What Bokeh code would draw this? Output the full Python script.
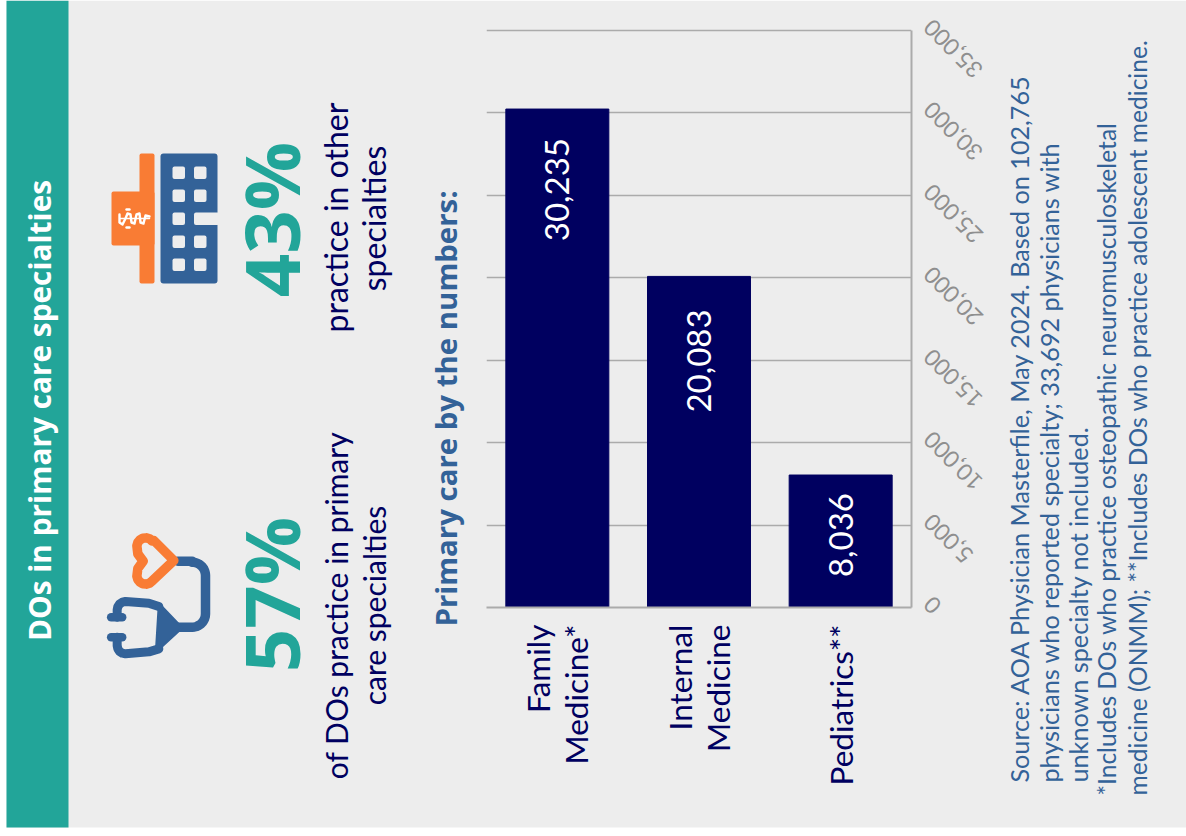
import math
import numpy as np
from bokeh.embed import file_html
from bokeh.resources import INLINE
from bokeh.plotting import figure
from bokeh.models import CategoricalAxis, ColumnDataSource, FactorRange, FixedTicker, LinearAxis, Range1d
from bokeh.core.properties import value

# Chart data
specialties = ["Family\nMedicine*", "Internal\nMedicine", "Pediatrics**"]
physician_counts = [30235, 20083, 8036]
count_labels = ["30,235", "20,083", "8,036"]
axis_ticks = [0, 5000, 10000, 15000, 20000, 25000, 30000, 35000]
axis_tick_labels = ["0", "5,000", "10,000", "15,000", "20,000", "25,000", "30,000", "35,000"]

# Palette and type
FONT = "Lato"
BOLD_FONT = "Open Sans"
PANEL = "#ededed"
TEAL = "#22a599"
ORANGE = "#f97c34"
BLUE = "#336298"
NAVY = "#000060"
GREY = "#8f8f8f"
RULE = "#ababab"

W, H = 1186, 836
PLOT_LEFT, PLOT_RIGHT, PLOT_TOP, PLOT_BOTTOM = 486, 911, 30, 607
AXIS_MAX = 35000
COUNT_PER_PX = AXIS_MAX / (PLOT_BOTTOM - PLOT_TOP)
HEADROOM = 3  # spare pixels above the top tick keep its grid line inside the frame
ABSOLUTE = {"position": "absolute", "left": "0px", "top": "0px"}

# Page layer: panel, header band, icons and running text, in page pixels
page = figure(width=W, height=H, output_backend="svg", toolbar_location=None,
              x_range=Range1d(0, W), y_range=Range1d(H, 0),
              x_axis_location=None, y_axis_location=None, min_border=0)
page.outline_line_color = None
page.grid.visible = False
page.background_fill_color = "white"
page.border_fill_color = "white"
page.styles = ABSOLUTE
page.extra_y_ranges["count"] = Range1d(-(H - PLOT_BOTTOM) * COUNT_PER_PX, PLOT_BOTTOM * COUNT_PER_PX)


def box(x0, x1, y0, y1, color, radius=0):
    page.quad(left=[x0], right=[x1], top=[y0], bottom=[y1], fill_color=color, line_color=None,
              border_radius=radius)


def stroke(points, color, width):
    xs, ys = zip(*points)
    page.line(list(xs), list(ys), line_color=color, line_width=width, line_join="round", line_cap="round")


def text(x, y, s, size, color, weight="normal", align="center", angle=90):
    family = BOLD_FONT if weight == "bold" else FONT
    page.text(x=[x], y=[y], text=[s], text_font=value(family), text_font_size=f"{size}px",
              text_font_style=weight, text_color=color, text_align=align, text_baseline="middle",
              angle=math.radians(angle))


def arc(cx, cy, r, a0, a1, n=10):
    return [(cx + r * math.cos(math.radians(a)), cy + r * math.sin(math.radians(a)))
            for a in np.linspace(a0, a1, n)]


box(6, W, 0, 827, PANEL)
box(6, 68, 0, 827, TEAL)
text(39, 410, "DOs in primary care specialties", 29.8, "white", "bold")

# Hospital icon
box(139, 154, 153, 283, ORANGE, 2)
box(111, 154, 191, 245, ORANGE, 2)
box(160, 217, 153, 283, BLUE, 3)
for wy0 in (166, 189, 235, 258):
    for wx0 in (172, 193.5):
        box(wx0, wx0 + 12.5, wy0, wy0 + 12.5, PANEL, 2)
box(172, 184.5, 212, 224.5, PANEL, 2)
box(193.5, 219, 212, 224.5, PANEL, 2)
# Rod and serpent emblem on the hospital's wing
stroke([(120, 218), (149, 218)], "white", 1.5)
stroke([(119, 214), (119, 222), (122, 224), (125, 218), (127, 213), (130, 214), (131, 222), (134, 223),
        (136, 214), (139, 213), (140, 222), (143, 223), (145, 215), (149, 216)], "white", 2.4)
stroke([(126, 209), (129, 209)], "white", 2.4)
stroke([(126, 227), (129, 227)], "white", 2.4)


# Stethoscope icon, sketched on a 3x grid anchored at its corner
def steth(points):
    return [(90 + x / 3, 520 + y / 3) for x, y in points]


stroke(steth([(262, 122), (305, 122)] + arc(305, 165, 40, -90, 0) + arc(305, 280, 40, 0, 90) + [(262, 320)]), BLUE, 9.5)
body = steth([(276, 322), (205, 248), (196, 395)])
page.patch([q[0] for q in body], [q[1] for q in body], fill_color=BLUE, line_color=BLUE, line_width=2, line_join="round")
stroke(steth([(205, 258), (175, 248), (105, 243)] + arc(105, 268, 25, -90, -180, 5) + [(80, 290)]), BLUE, 9)
stroke(steth([(205, 385), (175, 394), (105, 400)] + arc(105, 375, 25, 90, 180, 5) + [(80, 350)]), BLUE, 9)
stroke(steth([(62, 290), (95, 290)]), BLUE, 8.5)
stroke(steth([(62, 350), (95, 350)]), BLUE, 8.5)
heart = steth([(250, 120), (190, 60)] + arc(165, 78, 26, -40, -175, 7) + [(142, 100), (158, 122), (142, 144)] +
              arc(165, 165, 26, 175, 40, 7))
page.patch([q[0] for q in heart], [q[1] for q in heart], fill_alpha=0, line_color=ORANGE, line_width=9.5, line_join="round")

# Headline figures
text(270, 594, "57%", 76, TEAL, "bold")
text(270, 219, "43%", 76, TEAL, "bold")
text(335, 605, "of DOs practice in primary", 30, NAVY)
text(373, 605, "care specialties", 30, NAVY)
text(335, 217, "practice in other", 32, NAVY)
text(373, 218, "specialties", 32, NAVY)
text(445, 408, "Primary care by the numbers:", 29.4, BLUE, "bold")

# Source notes
notes = [
    (1018, 782, "Source: AOA Physician Masterfile, May 2024.  Based on 102,765", 25.2),
    (1048, 782, "physicians who reported specialty; 33,692 physicians with", 25.2),
    (1077, 782, "unknown specialty not included.", 25.2),
    (1106, 795, "*Includes DOs who practice osteopathic neuromusculoskeletal", 24.6),
    (1137, 795, "medicine (ONMM); **Includes DOs who practice adolescent medicine.", 24.6),
]
for nx, ny, line, size in notes:
    text(nx, ny, line, size, BLUE, align="left")

# Slanted value labels, placed on the count scale and trailing down from each tick
page.text(x=[927] * len(axis_ticks), y=axis_ticks, y_range_name="count", y_offset=-7, text=axis_tick_labels,
          text_font=value(FONT), text_font_size="23px", text_color=GREY,
          text_align="right", text_baseline="middle", angle=math.radians(135))

# Bar chart layer, transparent over the page
chart = figure(width=W, height=H, output_backend="svg", toolbar_location=None,
               x_range=FactorRange(*specialties, range_padding=0, factor_padding=0),
               y_range=Range1d(0, AXIS_MAX + HEADROOM * COUNT_PER_PX),
               x_axis_location=None, y_axis_location=None,
               min_border_left=PLOT_LEFT, min_border_right=W - PLOT_RIGHT,
               min_border_top=PLOT_TOP - HEADROOM, min_border_bottom=H - PLOT_BOTTOM)
chart.outline_line_color = None
chart.border_fill_alpha = 0
chart.background_fill_alpha = 0
chart.styles = ABSOLUTE

source = ColumnDataSource(dict(specialty=specialties, count=physician_counts, label=count_labels, inset=[29, 33, 18]))
chart.vbar(x="specialty", top="count", bottom=0, width=0.727, color=NAVY, source=source)
chart.text(x="specialty", y="count", text="label", y_offset="inset", source=source,
           text_font=value(FONT), text_font_size="33px", text_color="white", angle=math.pi / 2,
           text_align="right", text_baseline="middle")

chart.xgrid.visible = False
chart.ygrid.ticker = FixedTicker(ticks=axis_ticks)
chart.ygrid.grid_line_color = RULE
chart.ygrid.grid_line_width = 1.5

value_axis = LinearAxis(ticker=FixedTicker(ticks=axis_ticks), bounds=(0, AXIS_MAX))
value_axis.axis_line_color = RULE
value_axis.axis_line_width = 2
value_axis.major_tick_line_color = None
value_axis.minor_tick_line_color = None
value_axis.major_label_overrides = {t: "" for t in axis_ticks}
chart.add_layout(value_axis, "right")

cat_axis = CategoricalAxis()
cat_axis.axis_line_color = RULE
cat_axis.axis_line_width = 2
cat_axis.major_tick_line_color = None
cat_axis.minor_tick_line_color = None
cat_axis.major_label_orientation = math.pi / 2
cat_axis.major_label_text_color = NAVY
cat_axis.major_label_text_font = FONT
cat_axis.major_label_text_font_size = "31.5px"
cat_axis.major_label_text_line_height = 1.0
cat_axis.major_label_standoff = 11
chart.add_layout(cat_axis, "below")

open("out.html", "w").write(file_html([page, chart], INLINE))
